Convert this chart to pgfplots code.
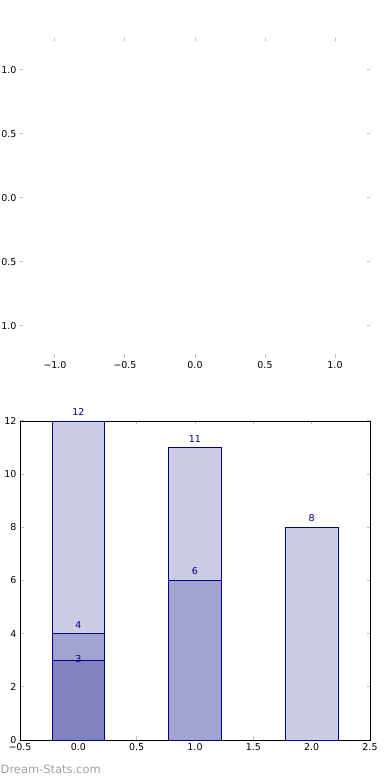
\documentclass[border=0pt]{standalone}
\usepackage{fontspec}
\setmainfont{DejaVu Sans}
\usepackage{pgfplots}
\pgfplotsset{compat=1.18}
\pgfkeys{/pgf/number format/assume math mode=true}
\definecolor{navy}{RGB}{0,0,128}
\definecolor{fa}{RGB}{204,204,229}
\definecolor{fb}{RGB}{163,163,209}
\definecolor{fc}{RGB}{130,130,193}
\definecolor{tickgray}{RGB}{190,190,190}
\definecolor{wm}{RGB}{160,160,160}
\begin{document}
\begin{tikzpicture}
\pgfplotsset{
  common/.style={
    scale only axis, anchor=south west,
    tick align=inside, major tick length=3.5bp,
    tick style={tickgray, line width=1bp},
    tick label style={font=\fontsize{9.5}{11}\selectfont, text=black},
    xticklabel pos=lower, yticklabel pos=left,
    /pgf/number format/assume math mode=true,
  }
}
\begin{axis}[common,
  at={(0bp,382bp)}, width=350bp, height=320bp,
  xmin=-1.25, xmax=1.25, ymin=-1.25, ymax=1.25,
  axis line style={draw=none},
  xtick={-1,-0.5,0,0.5,1}, xticklabels={−1.0,−0.5,0.0,0.5,1.0},
  ytick={-1,-0.5,0,0.5,1}, yticklabels={−1.0,−0.5,0.0,0.5,1.0},
]
\addplot[draw=none, forget plot] coordinates {(0,0)};
\end{axis}
\begin{axis}[common,
  at={(0bp,0bp)}, width=350bp, height=319bp,
  xmin=-0.5, xmax=2.5, ymin=0, ymax=12,
  axis line style={black, line width=0.8bp},
  xtick={-0.5,0,0.5,1,1.5,2,2.5},
  xticklabels={−0.5,0.0,0.5,1.0,1.5,2.0,2.5},
  ytick={0,2,4,6,8,10,12},
  yticklabels={0,2,4,6,8,10,12},
  clip=false,
]
\addplot[ybar, bar shift=0pt, bar width=0.45, draw=navy, line width=0.8bp, fill=fa,
  nodes near coords, every node near coord/.append style={font=\fontsize{9.5}{11}\selectfont, text=navy, anchor=base, yshift=5.5bp, inner sep=0pt}]
  coordinates {(0,12) (1,11) (2,8)};
\addplot[ybar, bar shift=0pt, bar width=0.45, draw=navy, line width=0.8bp, fill=fb,
  nodes near coords, every node near coord/.append style={font=\fontsize{9.5}{11}\selectfont, text=navy, anchor=base, yshift=5.5bp, inner sep=0pt}]
  coordinates {(0,4) (1,6)};
\addplot[ybar, bar shift=0pt, bar width=0.45, draw=navy, line width=0.8bp, fill=fc,
  nodes near coords, every node near coord/.append style={font=\fontsize{9.5}{11}\selectfont, text=navy, anchor=base, yshift=-1.8bp, inner sep=0pt}]
  coordinates {(0,3)};
\end{axis}
\node[anchor=base west, inner sep=0pt, text=wm, font=\fontsize{11.5}{13}\selectfont] at (-19.5bp,-33bp) {Dream-Stats.com};
\pgfresetboundingbox
\path (-20bp,-40bp) rectangle (370bp,740bp);
\end{tikzpicture}
\end{document}
